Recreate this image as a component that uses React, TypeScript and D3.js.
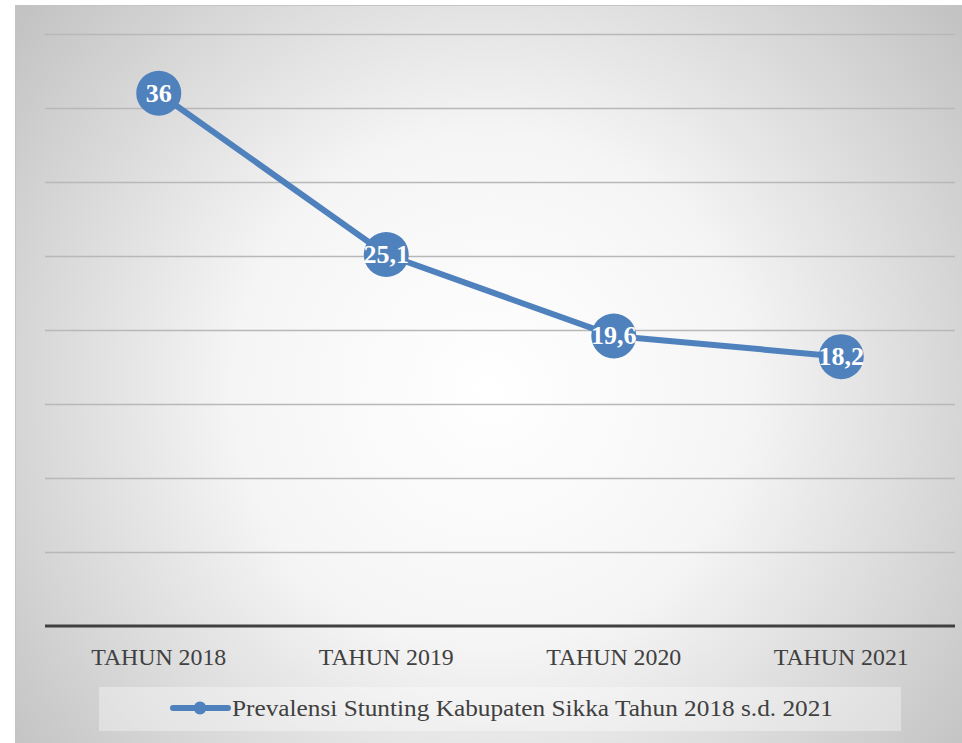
import React from "react";
import * as d3 from "d3";

const categories = ["TAHUN 2018", "TAHUN 2019", "TAHUN 2020", "TAHUN 2021"];
const values = [36, 25.1, 19.6, 18.2];
const valueLabels = ["36", "25,1", "19,6", "18,2"];
const yTicks = [0, 5, 10, 15, 20, 25, 30, 35, 40];
const seriesName = "Prevalensi Stunting Kabupaten Sikka Tahun 2018 s.d. 2021";

const W = 962;
const H = 743;
const FONT = "'Liberation Serif', 'DejaVu Serif', serif";
const BLUE = "#4f81bd";

export default function App() {
  const plotLeft = 45;
  const plotRight = 955;
  const x = d3.scaleBand<string>().domain(categories).range([plotLeft, plotRight]);
  const y = d3.scaleLinear().domain([0, 40]).range([626, 34]);
  const line = d3
    .line<number>()
    .x((_, i) => (x(categories[i]) as number) + x.bandwidth() / 2)
    .y((d) => y(d));

  return (
    <div style={{ position: "absolute", left: 0, top: 0 }}>
      <svg width={W} height={H} style={{ display: "block" }}>
        <defs>
          <radialGradient id="bg" cx="490" cy="390" r="640" gradientUnits="userSpaceOnUse">
            <stop offset="0" stopColor="#ffffff" />
            <stop offset="0.4" stopColor="#f5f5f5" />
            <stop offset="1" stopColor="#bdbdbd" />
          </radialGradient>
        </defs>
        <rect x={0} y={0} width={W} height={H} fill="#ffffff" />
        <rect x={15.5} y={5.5} width={W} height={H} fill="url(#bg)" stroke="#c4c4c4" strokeWidth={1} />
        {yTicks.slice(1).map((t) => (
          <line
            key={t}
            x1={plotLeft}
            x2={plotRight}
            y1={Math.round(y(t)) + 0.5}
            y2={Math.round(y(t)) + 0.5}
            stroke="#b8b8b8"
            strokeWidth={1.3}
          />
        ))}
        <line x1={plotLeft} x2={plotRight} y1={y(0)} y2={y(0)} stroke="#404040" strokeWidth={3} />
        {categories.map((c) => (
          <text
            key={c}
            x={(x(c) as number) + x.bandwidth() / 2}
            y={665}
            textAnchor="middle"
            fontFamily={FONT}
            fontSize={24}
            textLength={135}
            lengthAdjust="spacingAndGlyphs"
            fill="#404040"
          >
            {c}
          </text>
        ))}
        <path d={line(values) as string} fill="none" stroke={BLUE} strokeWidth={6} strokeLinejoin="round" />
        {values.map((v, i) => {
          const cx = (x(categories[i]) as number) + x.bandwidth() / 2;
          const cy = y(v);
          return (
            <g key={i}>
              <circle cx={cx} cy={cy} r={22.5} fill={BLUE} />
              <text
                x={cx}
                y={cy + 8.5}
                textAnchor="middle"
                fontFamily={FONT}
                fontWeight="bold"
                fontSize={26}
                fill="#ffffff"
              >
                {valueLabels[i]}
              </text>
            </g>
          );
        })}
        <rect x={99} y={687} width={802} height={44} fill="#ffffff" fillOpacity={0.35} />
        <line x1={173} x2={228} y1={708} y2={708} stroke={BLUE} strokeWidth={6} strokeLinecap="round" />
        <circle cx={200} cy={708} r={6.5} fill={BLUE} />
        <text
          x={232}
          y={716}
          fontFamily={FONT}
          fontSize={24}
          textLength={601}
          lengthAdjust="spacingAndGlyphs"
          fill="#404040"
        >
          {seriesName}
        </text>
      </svg>
    </div>
  );
}
